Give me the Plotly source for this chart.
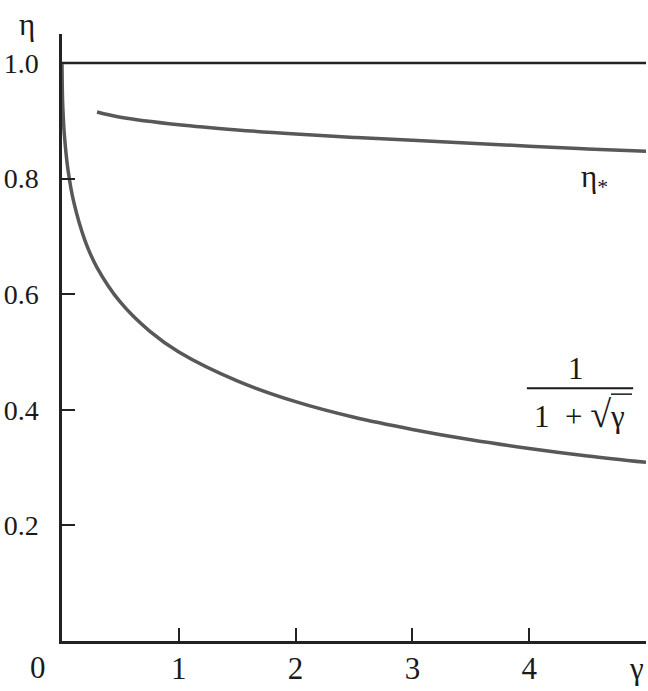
import plotly.graph_objects as go

# data
gamma_a = [0.0, 0.005, 0.01, 0.02, 0.05, 0.1, 0.2, 0.3, 0.5, 0.75, 1.0, 1.5, 2.0, 2.5, 3.0, 3.5, 4.0, 4.5, 5.0]
eta_a = [1.0, 0.934, 0.91, 0.876, 0.817, 0.760, 0.691, 0.646, 0.586, 0.536, 0.500, 0.450, 0.414, 0.387, 0.366, 0.348, 0.333, 0.320, 0.309]

gamma_s = [0.3, 0.5, 1.0, 1.5, 2.0, 2.5, 3.0, 3.5, 4.0, 4.5, 5.0]
eta_s = [0.915, 0.906, 0.893, 0.884, 0.877, 0.871, 0.866, 0.861, 0.856, 0.851, 0.847]

gamma_one = [0.0, 5.0]
eta_one = [1.0, 1.0]

x_ticks = [1, 2, 3, 4, 5]
x_labels = ["1", "2", "3", "4", ""]
y_ticks = [0.2, 0.4, 0.6, 0.8, 1.0]
y_labels = ["0.2", "0.4", "0.6", "0.8", "1.0"]

FONT = "Liberation Serif"
AX = "#222222"
CURVE = "#585858"
TXT = "#1a1a1a"

fig = go.Figure()
fig.add_trace(go.Scatter(x=gamma_one, y=eta_one, mode="lines",
                         line=dict(color=AX, width=2.5), cliponaxis=False, hoverinfo="skip"))
fig.add_trace(go.Scatter(x=gamma_a, y=eta_a, mode="lines", line_shape="spline",
                         line=dict(color=CURVE, width=3.5), cliponaxis=False))
fig.add_trace(go.Scatter(x=gamma_s, y=eta_s, mode="lines", line_shape="spline",
                         line=dict(color=CURVE, width=3.5), cliponaxis=False))

fs = 31
fig.update_layout(
    width=648, height=691,
    margin=dict(l=62, r=2, t=34, b=50),
    plot_bgcolor="white", paper_bgcolor="white",
    showlegend=False,
    font=dict(family=FONT, size=fs, color=TXT),
    xaxis=dict(range=[0, 5.0], tickvals=x_ticks, ticktext=x_labels,
               ticks="inside", ticklen=13, tickwidth=2, tickcolor=AX,
               showline=True, linecolor=AX, linewidth=2.5, automargin=False,
               showgrid=False, zeroline=False, ticklabelstandoff=-2),
    yaxis=dict(range=[0, 1.05], tickvals=y_ticks, ticktext=y_labels,
               ticks="inside", ticklen=13, tickwidth=2, tickcolor=AX,
               tickfont=dict(size=28),
               showline=True, linecolor=AX, linewidth=2.5, automargin=False,
               showgrid=False, zeroline=False, ticklabelstandoff=15),
)

ann = dict(showarrow=False, font=dict(family=FONT, size=fs, color=TXT),
           xanchor="center", yanchor="middle")
fig.add_annotation(text="η", x=-0.06, y=1.015, xref="paper", yref="paper", **ann)
fig.add_annotation(text="0", x=-0.041, y=-0.044, xref="paper", yref="paper", **ann)
fig.add_annotation(text="γ", x=0.984, y=-0.045, xref="paper", yref="paper", **ann)
fig.add_annotation(text="η<sub>*</sub>", x=4.56, y=0.80, xref="x", yref="y", **ann)
fig.add_annotation(text="1", x=4.40, y=0.472, xref="x", yref="y", **ann)
fig.add_annotation(text="1 &nbsp;+ <span style='font-size:38px'>√</span>γ", x=4.43, y=0.393,
                   xref="x", yref="y", **ann)
fig.add_shape(type="line", xref="x", yref="y", x0=3.98, x1=4.89, y0=0.437, y1=0.437,
              line=dict(color=TXT, width=2))
fig.add_shape(type="line", xref="x", yref="y", x0=4.70, x1=4.88, y0=0.427, y1=0.427,
              line=dict(color=TXT, width=1.5))

fig.write_html("out.html", config={"displayModeBar": False},
               post_script="document.body.style.margin='0';")
